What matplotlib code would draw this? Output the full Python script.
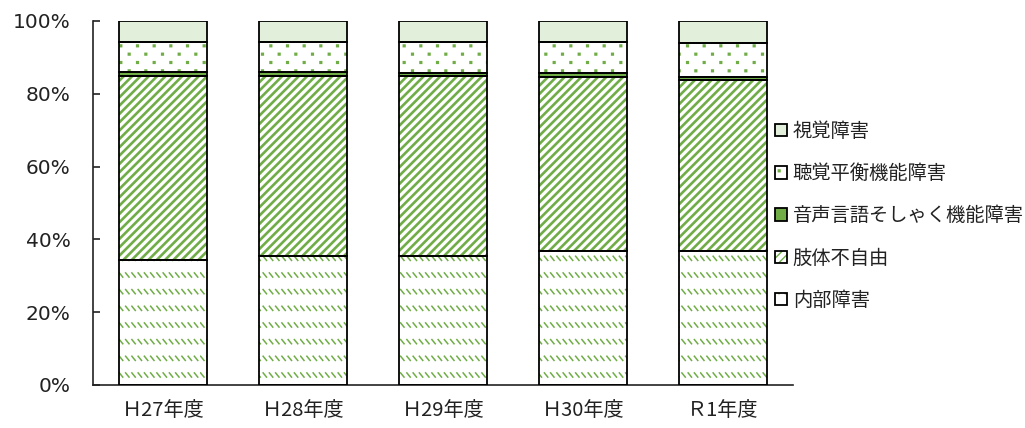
import numpy as np
import matplotlib
matplotlib.use("Agg")
import matplotlib.pyplot as plt
import matplotlib.hatch as mhatch
from matplotlib.path import Path
from matplotlib.legend_handler import HandlerTuple

# ---------------- data ----------------
categories = ['Ｈ27年度', 'Ｈ28年度', 'Ｈ29年度', 'Ｈ30年度', 'Ｒ1年度']
naibu = [34.4, 35.5, 35.5, 36.8, 36.8]        # 内部障害
shitai = [50.6, 49.5, 49.3, 47.9, 47.0]       # 肢体不自由
onsei = [0.9, 0.9, 0.9, 0.9, 0.9]             # 音声言語そしゃく機能障害
choukaku = [8.2, 8.3, 8.5, 8.6, 9.3]          # 聴覚平衡機能障害
shikaku = [5.9, 5.8, 5.8, 5.8, 6.0]           # 視覚障害
series_names = ['内部障害', '肢体不自由', '音声言語そしゃく機能障害', '聴覚平衡機能障害', '視覚障害']
yticks = [0, 20, 40, 60, 80, 100]
ytick_labels = ['0%', '20%', '40%', '60%', '80%', '100%']

GREEN = '#70AD47'
LIGHT = '#E2EFDA'
TEXT = '#222222'


# ---------------- custom hatch patterns ----------------
class DashDiag(mhatch.HatchPatternBase):
    """Rows of short backslash dashes (triggered by 'O')."""
    def __init__(self, hatch, density):
        n = hatch.count('O')
        self.rows = 6 * n
        self.cols = 16 * n
        self.num_vertices = self.rows * self.cols * 2 if n else 0

    def set_vertices_and_codes(self, vertices, codes):
        w, h = 0.034, 0.042
        k = 0
        for r in range(self.rows):
            y = (r + 0.5) / self.rows
            for c in range(self.cols):
                x = (c + 0.1) / self.cols
                vertices[k] = (x, y + h / 2)
                vertices[k + 1] = (x + w, y - h / 2)
                codes[k] = Path.MOVETO
                codes[k + 1] = Path.LINETO
                k += 2


class DotGrid(mhatch.HatchPatternBase):
    """Staggered small square dots (triggered by 'o')."""
    def __init__(self, hatch, density):
        n = hatch.count('o')
        self.rows = 12 * n
        self.cols = 6 * n
        self.num_vertices = self.rows * self.cols * 5 if n else 0

    def set_vertices_and_codes(self, vertices, codes):
        s = 0.009
        k = 0
        for r in range(self.rows):
            y = (r + 0.5) / self.rows
            for c in range(self.cols):
                x = (c + 0.25 + 0.5 * (r % 2)) / self.cols
                vertices[k:k + 5] = [(x - s, y - s), (x + s, y - s), (x + s, y + s), (x - s, y + s), (x - s, y - s)]
                codes[k] = Path.MOVETO
                codes[k + 1:k + 4] = Path.LINETO
                codes[k + 4] = Path.CLOSEPOLY
                k += 5


mhatch._hatch_types = [DashDiag if t is mhatch.LargeCircles else (DotGrid if t is mhatch.SmallCircles else t)
                       for t in mhatch._hatch_types]

# ---------------- figure ----------------
fig = plt.figure(figsize=(10.25, 4.28), dpi=100)
ax = fig.add_axes([93 / 1025, 43 / 428, 700 / 1025, 364 / 428])

x = np.arange(len(categories))
width = 0.635

series = [naibu, shitai, onsei, choukaku, shikaku]
styles = [
    dict(facecolor='white', edgecolor=GREEN, hatch='O', hlw=1.1),
    dict(facecolor='white', edgecolor=GREEN, hatch='////', hlw=1.9),
    dict(facecolor=GREEN, edgecolor=GREEN, hatch=None, hlw=1.0),
    dict(facecolor='white', edgecolor=GREEN, hatch='o', hlw=1.0),
    dict(facecolor=LIGHT, edgecolor=LIGHT, hatch=None, hlw=1.0),
]

bottom = np.zeros(len(categories))
handles = []
for vals, st, name in zip(series, styles, series_names):
    vals = np.array(vals, dtype=float)
    with plt.rc_context({'hatch.linewidth': st['hlw']}):
        fill = ax.bar(x, vals, width, bottom=bottom, facecolor=st['facecolor'],
                      edgecolor=st['edgecolor'], hatch=st['hatch'], linewidth=0, zorder=2)
        for p in fill:
            if hasattr(p, 'set_hatch_linewidth'):
                p.set_hatch_linewidth(st['hlw'])
        outline = ax.bar(x, vals, width, bottom=bottom, fill=False,
                         edgecolor='black', linewidth=1.3, zorder=3)
    handles.append((fill[0], outline[0]))
    bottom += vals

ax.set_xlim(-0.5, len(categories) - 0.5)
ax.set_ylim(0, 100)
ax.set_yticks(yticks)
ax.set_yticklabels(ytick_labels)
ax.set_xticks(x)
ax.set_xticklabels(categories)

for s in ['top', 'right']:
    ax.spines[s].set_visible(False)
for s in ['left', 'bottom']:
    ax.spines[s].set_linewidth(1.2)
    ax.spines[s].set_color(TEXT)

ax.tick_params(axis='y', direction='in', length=5, width=1.2, pad=16, labelsize=14.5,
               colors=TEXT)
ax.tick_params(axis='x', direction='in', length=3, width=1.2, pad=11, colors=TEXT)
for lbl in ax.get_yticklabels():
    lbl.set_family(['DejaVu Sans'])
for lbl in ax.get_xticklabels():
    lbl.set_family(['Noto Sans CJK JP', 'DejaVu Sans'])
    lbl.set_fontsize(14.5)

leg = fig.legend(handles[::-1], series_names[::-1],
                 handler_map={tuple: HandlerTuple(ndivide=1, pad=0)},
                 loc='center left', bbox_to_anchor=(0.756, 1 - 216 / 428),
                 bbox_transform=fig.transFigure, frameon=False,
                 prop={'family': ['Noto Sans CJK JP', 'DejaVu Sans'], 'size': 13.9},
                 handlelength=0.62, handleheight=0.62, handletextpad=0.3,
                 labelspacing=1.1, borderaxespad=0, borderpad=0)
for t in leg.get_texts():
    t.set_color(TEXT)

fig.savefig('out.png', dpi=100)
